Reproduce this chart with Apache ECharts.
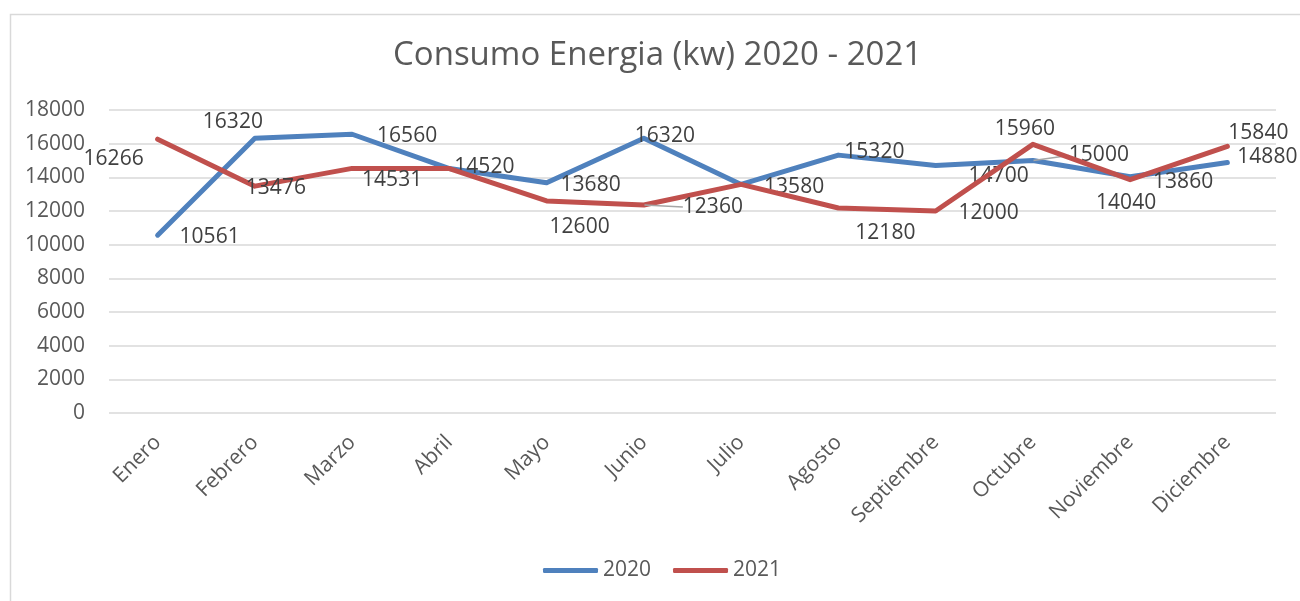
<!DOCTYPE html>
<html>
<head>
<meta charset="utf-8">
<script src="https://cdn.jsdelivr.net/npm/echarts@6/dist/echarts.min.js"></script>
<style>
html,body{margin:0;padding:0;background:#fff;}
#chart{width:1300px;height:601px;}
</style>
</head>
<body>
<div id="chart"></div>
<script>
// ---- Data ----
const categories = ['Enero','Febrero','Marzo','Abril','Mayo','Junio','Julio','Agosto','Septiembre','Octubre','Noviembre','Diciembre'];
const values2020 = [10561, 16320, 16560, 14520, 13680, 16320, 13580, 15320, 14700, 15000, 14040, 14880];
const values2021 = [16266, 13476, 14531, 14520, 12600, 12360, 13580, 12180, 12000, 15960, 13860, 15840];
const yTicks = { min: 0, max: 18000, interval: 2000 };

// ---- Label placement (layout only: label centre offset from point, px) ----
const labelOffsets2020 = [[52,2],[-22,-16],[55,2],[35,-2],[44,2],[21,-2],[53,3],[36,-3],[63,10],[66,-5],[-4,26],[40,-6]];
const labelOffsets2021 = [[-44,20],[21,2],[40,12],[35,-2],[33,26],[69,2],[53,3],[47,25],[53,2],[-8,-15],[53,2],[31,-13]];
// months whose label has a leader line (index)
const leader2020 = [9];
const leader2021 = [5];

const FONT = 'Open Sans';
const TXT = '#595959';
const BLUE = '#4F81BD';
const RED = '#C0504D';

function buildData(vals, other, leaders) {
  return vals.map((v, i) => ({
    value: v,
    // identical values at the same month share one visible label
    label: { show: !(other && other[i] === v) },
    labelLine: { show: leaders.indexOf(i) >= 0 }
  }));
}

const chart = echarts.init(document.getElementById('chart'), null, { renderer: 'canvas' });

const labelBase = {
  show: true,
  position: 'inside',
  align: 'center',
  verticalAlign: 'middle',
  color: '#404040',
  fontFamily: FONT,
  fontSize: 21
};
const labelLineBase = {
  show: false,
  lineStyle: { color: '#a6a6a6', width: 1.5 }
};

chart.setOption({
  animation: false,
  backgroundColor: '#ffffff',
  graphic: [{
    type: 'rect',
    left: 8, top: 12,
    shape: { width: 1310, height: 610 },
    style: { fill: 'none', stroke: '#d9d9d9', lineWidth: 1.5 },
    silent: true
  }],
  title: {
    text: 'Consumo Energia (kw) 2020 - 2021',
    left: 388,
    top: 34,
    padding: 5,
    textStyle: { fontFamily: FONT, fontSize: 33, fontWeight: 'normal', color: TXT }
  },
  legend: {
    data: ['2020', '2021'],
    left: 538,
    top: 555,
    padding: 5,
    icon: 'roundRect',
    itemWidth: 55,
    itemHeight: 5,
    itemGap: 22,
    textStyle: { fontFamily: FONT, fontSize: 21, color: TXT, padding: [0, 0, 0, 0] }
  },
  grid: { left: 109, right: 24, top: 110, bottom: 188, containLabel: false },
  xAxis: {
    type: 'category',
    data: categories,
    boundaryGap: true,
    axisLine: { show: false },
    axisTick: { show: false },
    axisLabel: {
      rotate: 45,
      margin: 26,
      interval: 0,
      fontFamily: FONT,
      fontSize: 21,
      color: TXT
    },
    splitLine: { show: false }
  },
  yAxis: {
    type: 'value',
    min: yTicks.min,
    max: yTicks.max,
    interval: yTicks.interval,
    axisLine: { show: false },
    axisTick: { show: false },
    axisLabel: { margin: 24, fontFamily: FONT, fontSize: 21, color: TXT, formatter: v => String(v) },
    splitLine: { lineStyle: { color: '#d9d9d9', width: 1.5 } }
  },
  series: [
    {
      name: '2020',
      type: 'line',
      data: buildData(values2020, null, leader2020),
      color: BLUE,
      symbol: 'circle',
      symbolSize: 1,
      showSymbol: true,
      itemStyle: { color: BLUE },
      lineStyle: { color: BLUE, width: 5, join: 'round', cap: 'round' },
      label: labelBase,
      labelLine: labelLineBase,
      labelLayout: p => ({ dx: labelOffsets2020[p.dataIndex][0], dy: labelOffsets2020[p.dataIndex][1] }),
      emphasis: { disabled: true },
      z: 2
    },
    {
      name: '2021',
      type: 'line',
      data: buildData(values2021, values2020, leader2021),
      color: RED,
      symbol: 'circle',
      symbolSize: 1,
      showSymbol: true,
      itemStyle: { color: RED },
      lineStyle: { color: RED, width: 5, join: 'round', cap: 'round' },
      label: labelBase,
      labelLine: labelLineBase,
      labelLayout: p => ({ dx: labelOffsets2021[p.dataIndex][0], dy: labelOffsets2021[p.dataIndex][1] }),
      emphasis: { disabled: true },
      z: 3
    }
  ]
});
</script>
</body>
</html>
